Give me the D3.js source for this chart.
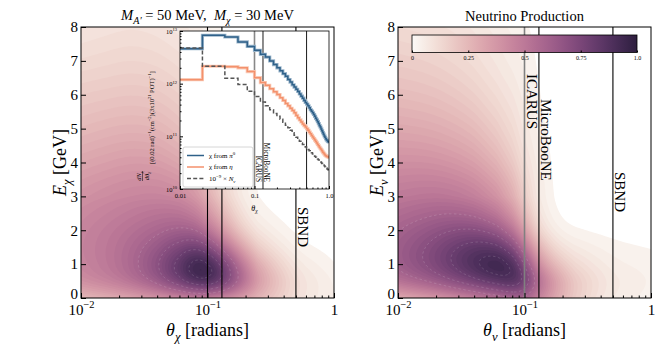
<!DOCTYPE html>
<html>
<head>
<meta charset="utf-8">
<script src="https://cdn.jsdelivr.net/npm/d3@7"></script>
<style>
  body { margin: 0; background: #fff; }
  svg, svg text { font-family: "Liberation Serif", "DejaVu Serif", serif; }
</style>
</head>
<body>
<svg id="chart" width="664" height="353"></svg>
<script>

// ---- Data ----

// Grid nodes of the (theta, E) density maps
const thetaGrid  = [0.01, 0.016, 0.025, 0.04, 0.06, 0.08, 0.1, 0.13, 0.18, 0.25, 0.4, 0.6, 1.0];
const energyGrid = [0, 0.5, 1, 1.5, 2, 2.5, 3, 4, 5, 6, 7, 8];

// Dark matter (chi) production, normalised, one row per energy (E = 0 first)
const chiDensity = [
  [0.25, 0.29, 0.33, 0.39, 0.45, 0.48, 0.48, 0.45, 0.37, 0.27, 0.14, 0.07, 0.04],
  [0.42, 0.47, 0.54, 0.66, 0.82, 0.93, 0.95, 0.86, 0.62, 0.38, 0.17, 0.08, 0.04],
  [0.45, 0.50, 0.57, 0.70, 0.86, 0.98, 0.96, 0.82, 0.54, 0.30, 0.11, 0.05, 0.02],
  [0.46, 0.50, 0.56, 0.65, 0.75, 0.79, 0.73, 0.58, 0.35, 0.16, 0.05, 0.02, 0.01],
  [0.45, 0.49, 0.53, 0.58, 0.62, 0.60, 0.52, 0.38, 0.18, 0.07, 0.02, 0.01, 0],
  [0.43, 0.46, 0.49, 0.52, 0.52, 0.47, 0.39, 0.26, 0.10, 0.03, 0.01, 0, 0],
  [0.40, 0.43, 0.45, 0.46, 0.44, 0.38, 0.30, 0.18, 0.06, 0.015, 0, 0, 0],
  [0.32, 0.34, 0.36, 0.35, 0.31, 0.25, 0.19, 0.10, 0.03, 0.01, 0, 0, 0],
  [0.24, 0.26, 0.27, 0.26, 0.22, 0.17, 0.12, 0.06, 0.02, 0, 0, 0, 0],
  [0.18, 0.19, 0.20, 0.19, 0.16, 0.12, 0.08, 0.04, 0.01, 0, 0, 0, 0],
  [0.12, 0.13, 0.14, 0.13, 0.11, 0.08, 0.05, 0.03, 0.01, 0, 0, 0, 0],
  [0.08, 0.09, 0.10, 0.09, 0.07, 0.05, 0.03, 0.02, 0, 0, 0, 0, 0]
];

// Neutrino production, normalised
const nuDensity = [
  [0.30, 0.35, 0.41, 0.48, 0.55, 0.60, 0.60, 0.46, 0.30, 0.18, 0.07, 0.05, 0.03],
  [0.55, 0.62, 0.70, 0.80, 0.88, 0.92, 0.85, 0.56, 0.35, 0.20, 0.09, 0.06, 0.04],
  [0.63, 0.71, 0.80, 0.92, 0.99, 0.92, 0.72, 0.40, 0.22, 0.12, 0.06, 0.04, 0.03],
  [0.63, 0.70, 0.78, 0.86, 0.85, 0.72, 0.52, 0.26, 0.10, 0.06, 0.035, 0.025, 0.02],
  [0.60, 0.65, 0.70, 0.72, 0.65, 0.52, 0.35, 0.12, 0.035, 0.02, 0.012, 0.008, 0],
  [0.55, 0.58, 0.60, 0.58, 0.50, 0.38, 0.24, 0.07, 0.015, 0.005, 0, 0, 0],
  [0.50, 0.52, 0.52, 0.48, 0.40, 0.30, 0.17, 0.05, 0.01, 0, 0, 0, 0],
  [0.40, 0.40, 0.38, 0.34, 0.26, 0.18, 0.10, 0.05, 0.005, 0, 0, 0, 0],
  [0.31, 0.30, 0.28, 0.24, 0.17, 0.12, 0.07, 0.03, 0, 0, 0, 0, 0],
  [0.23, 0.22, 0.20, 0.16, 0.11, 0.08, 0.05, 0.02, 0, 0, 0, 0, 0],
  [0.17, 0.16, 0.14, 0.11, 0.07, 0.05, 0.035, 0.015, 0, 0, 0, 0, 0],
  [0.12, 0.11, 0.10, 0.075, 0.05, 0.035, 0.025, 0.01, 0, 0, 0, 0, 0]
];

// Detectors (off-axis angles)
const detectorNames  = ["ICARUS", "MicroBooNE", "SBND"];
const detectorAngles = [0.1, 0.13, 0.5];

// Inset histogram, 0.02 rad bins from 0 to 1
const binWidth = 0.02;
const chiFromPi0 = [
  4.6e12, 8.3e12, 7.7e12, 6.2e12, 5.1e12, 4.3e12, 3.6e12, 3.2e12, 2.7e12, 2.3e12,
  2.0e12, 1.75e12, 1.55e12, 1.38e12, 1.2e12, 1.07e12, 9.5e11, 8.6e11, 7.8e11, 7.1e11,
  6.4e11, 5.8e11, 5.3e11, 4.8e11, 4.4e11, 4.1e11, 3.8e11, 3.5e11, 3.2e11, 3.0e11,
  2.8e11, 2.6e11, 2.4e11, 2.2e11, 2.05e11, 1.9e11, 1.75e11, 1.6e11, 1.5e11, 1.38e11,
  1.28e11, 1.18e11, 1.1e11, 1.02e11, 9.6e10, 9.0e10, 8.6e10, 8.3e10, 8.0e10, 7.8e10
];
const chiFromEta = [
  1.19e12, 2.14e12, 2.1e12, 2.0e12, 1.7e12, 1.3e12, 1.05e12, 9.3e11, 8.0e11, 7.0e11,
  6.2e11, 5.4e11, 4.8e11, 4.2e11, 3.8e11, 3.4e11, 3.1e11, 2.8e11, 2.5e11, 2.25e11,
  2.05e11, 1.88e11, 1.72e11, 1.6e11, 1.5e11, 1.4e11, 1.3e11, 1.2e11, 1.12e11, 1.04e11,
  9.7e10, 9.1e10, 8.5e10, 8.0e10, 7.5e10, 7.0e10, 6.6e10, 6.2e10, 5.9e10, 5.6e10,
  5.3e10, 5.0e10, 4.8e10, 4.6e10, 4.4e10, 4.3e10, 4.2e10, 4.1e10, 4.15e10, 4.0e10
];
const scaledNeutrinos = [
  4.75e12, 2.14e12, 1.27e12, 9.6e11, 7.2e11, 5.7e11, 4.5e11, 3.8e11, 3.2e11, 2.7e11,
  2.4e11, 2.1e11, 1.85e11, 1.62e11, 1.45e11, 1.3e11, 1.17e11, 1.05e11, 9.6e10, 8.8e10,
  8.1e10, 7.5e10, 7.0e10, 6.6e10, 6.3e10, 5.9e10, 5.6e10, 5.3e10, 5.1e10, 4.9e10,
  4.6e10, 4.4e10, 4.2e10, 4.0e10, 3.85e10, 3.7e10, 3.55e10, 3.4e10, 3.3e10, 3.2e10,
  3.05e10, 2.95e10, 2.85e10, 2.75e10, 2.65e10, 2.55e10, 2.5e10, 2.4e10, 2.35e10, 2.3e10
];

const colorbarTicks = [0, 0.25, 0.5, 0.75, 1.0];


// ---- Helpers ----

const svg = d3.select("#chart");
const serif = "'Liberation Serif', 'DejaVu Serif', serif";

// seaborn-style cubehelix palette (white -> dark purple)
function cubehelix(v) {
	const light = 0.98, dark = 0.15;
	const x = light - v * (light - dark);
	const a = 0.8 * x * (1 - x) / 2;
	const phi = 2 * Math.PI * 0.4 * x;
	const c = Math.cos(phi), s = Math.sin(phi);
	const r = x + a * (-0.14861 * c + 1.78277 * s);
	const g = x + a * (-0.29227 * c - 0.90649 * s);
	const b = x + a * (1.97294 * c);
	return d3.rgb(r * 255, g * 255, b * 255).formatHex();
}
const colour = d3.scaleSequential(cubehelix).domain([0, 1]);

// Text with italic / sub / superscript pieces
function richText(sel, parts, size) {
	let shift = 0;
	parts.forEach(p => {
		const target = p.sup ? -0.42 * size : p.sub ? 0.28 * size : 0;
		const span = sel.append("tspan").text(p.t);
		if (target !== shift) span.attr("dy", target - shift);
		if (p.sup || p.sub) span.attr("font-size", size * 0.7);
		if (p.it) span.attr("font-style", "italic");
		shift = target;
	});
	return sel;
}

// Density map: smooth the grid with basis splines, then filled contours
function drawDensity(g, panel, x, y) {
	const nx = 128, ny = 136;
	const colIdx = d3.scaleLinear().domain(thetaGrid.map(Math.log10)).range(d3.range(thetaGrid.length));
	const rowIdx = d3.scaleLinear().domain(energyGrid).range(d3.range(energyGrid.length));
	const rowSplines = panel.density.map(row => d3.interpolateBasis(row));
	const values = new Float64Array(nx * ny);

	for (let i = 0; i < nx; i++) {
		const px = panel.x0 + i * (panel.x1 - panel.x0) / (nx - 1);
		const t = colIdx(Math.log10(x.invert(px))) / (thetaGrid.length - 1);
		const colSpline = d3.interpolateBasis(rowSplines.map(f => f(t)));
		for (let j = 0; j < ny; j++) {
			const py = panel.y0 + j * (panel.y1 - panel.y0) / (ny - 1);
			const s = rowIdx(y.invert(py)) / (energyGrid.length - 1);
			values[j * nx + i] = Math.max(0, colSpline(s));
		}
	}

	const sx = (panel.x1 - panel.x0) / (nx - 1), sy = (panel.y1 - panel.y0) / (ny - 1);
	const path = d3.geoPath(d3.geoTransform({
		point(px, py) { this.stream.point(panel.x0 + (px - 0.5) * sx, panel.y0 + (py - 0.5) * sy); }
	}));

	const levels = d3.range(0.02, 1.0, 0.02);
	const filled = d3.contours().size([nx, ny]).thresholds(levels)(values);
	g.append("g")
		.selectAll("path")
		.data(filled)
		.join("path")
		.attr("d", path)
		.attr("fill", d => colour(d.value + 0.01));

	// faint dashed contour lines around the peak
	const lines = d3.contours().size([nx, ny]).thresholds([0.6, 0.7, 0.8, 0.9])(values);
	g.append("g")
		.selectAll("path")
		.data(lines)
		.join("path")
		.attr("d", path)
		.attr("fill", "none")
		.attr("stroke", "#ffffff")
		.attr("stroke-opacity", 0.2)
		.attr("stroke-width", 0.7)
		.attr("stroke-dasharray", "2.5,2.5");
}

// Axes with inward ticks
function drawAxes(g, panel, x, y) {
	g.append("rect")
		.attr("x", panel.x0).attr("y", panel.y0)
		.attr("width", panel.x1 - panel.x0).attr("height", panel.y1 - panel.y0)
		.attr("fill", "none").attr("stroke", "#000").attr("stroke-width", 1);

	const minor = x.ticks().filter(v => Math.abs(Math.log10(v) - Math.round(Math.log10(v))) > 1e-6);
	g.append("g")
		.attr("transform", `translate(0,${panel.y1})`)
		.call(d3.axisBottom(x).tickValues(minor).tickSize(-2.5).tickFormat(""))
		.call(a => a.select(".domain").remove());

	const xLabels = [[{t: "10"}, {t: "−2", sup: true}], [{t: "10"}, {t: "−1", sup: true}], [{t: "1"}]];
	g.append("g")
		.attr("transform", `translate(0,${panel.y1})`)
		.call(d3.axisBottom(x).tickValues([0.01, 0.1, 1]).tickSize(-5).tickPadding(6))
		.call(a => a.select(".domain").remove())
		.call(a => a.selectAll(".tick text")
			.attr("font-family", serif).attr("font-size", 15)
			.text(null)
			.each(function(d, i) { richText(d3.select(this), xLabels[i], 15); }));

	g.append("g")
		.attr("transform", `translate(${panel.x0},0)`)
		.call(d3.axisLeft(y).ticks(8).tickSize(-5).tickPadding(3))
		.call(a => a.select(".domain").remove())
		.call(a => a.selectAll(".tick text")
			.attr("font-family", serif).attr("font-size", 15)
			.attr("dy", d => d === 0 ? "0.05em" : "0.32em"));

	// axis titles
	richText(g.append("text")
		.attr("x", (panel.x0 + panel.x1) / 2).attr("y", 336)
		.attr("text-anchor", "middle").attr("font-size", 18).attr("font-family", serif),
		[{t: "θ", it: true}, {t: panel.sym, it: true, sub: true}, {t: " [radians]"}], 18);

	richText(g.append("text")
		.attr("transform", `translate(${panel.x0 - 15},${(panel.y0 + panel.y1) / 2}) rotate(-90)`)
		.attr("text-anchor", "middle").attr("font-size", 18).attr("font-family", serif),
		[{t: "E", it: true}, {t: panel.sym, it: true, sub: true}, {t: " [GeV]"}], 18);
}

// Vertical detector lines with rotated names
function drawDetectors(g, panel, x, y) {
	detectorAngles.forEach((a, i) => {
		const grey = panel.greyIcarus && i === 0;
		g.append("line")
			.attr("x1", x(a)).attr("x2", x(a))
			.attr("y1", panel.y0).attr("y2", panel.y1)
			.attr("stroke", grey ? "#808080" : "#000")
			.attr("stroke-width", grey ? 1.6 : 1.1);
	});
	panel.labels.forEach(l => {
		const i = detectorNames.indexOf(l.name);
		g.append("text")
			.attr("transform", `translate(${x(detectorAngles[i]) + 2},${l.top}) rotate(90)`)
			.attr("font-size", 15).attr("font-family", serif)
			.text(l.name);
	});
}


// ---- Panels ----

const panels = [
	{ x0: 81, x1: 334, y0: 27, y1: 298, density: chiDensity, sym: "χ", greyIcarus: false,
	  labels: [{ name: "SBND", top: 207 }] },
	{ x0: 398, x1: 651, y0: 27, y1: 298, density: nuDensity, sym: "ν", greyIcarus: true,
	  labels: [{ name: "ICARUS", top: 74 }, { name: "MicroBooNE", top: 99 }, { name: "SBND", top: 172 }] }
];

panels.forEach((panel, k) => {
	const x = d3.scaleLog().domain([0.01, 1]).range([panel.x0, panel.x1]);
	const y = d3.scaleLinear().domain([0, 8]).range([panel.y1, panel.y0]);
	const g = svg.append("g");

	const clipId = "clip" + k;
	g.append("clipPath").attr("id", clipId)
		.append("rect")
		.attr("x", panel.x0).attr("y", panel.y0)
		.attr("width", panel.x1 - panel.x0).attr("height", panel.y1 - panel.y0);

	drawDensity(g.append("g").attr("clip-path", `url(#${clipId})`), panel, x, y);
	drawDetectors(g, panel, x, y);
	drawAxes(g, panel, x, y);
});

// Titles
richText(svg.append("text")
	.attr("x", 207.5).attr("y", 20).attr("text-anchor", "middle").attr("font-size", 14.5)
	.attr("font-family", serif).style("white-space", "pre"),
	[{t: "M", it: true}, {t: "A′", it: true, sub: true}, {t: " = 50 MeV,  "},
	 {t: "M", it: true}, {t: "χ", it: true, sub: true}, {t: " = 30 MeV"}], 14.5);

svg.append("text")
	.attr("x", 524.5).attr("y", 21).attr("text-anchor", "middle").attr("font-size", 14.5)
	.attr("font-family", serif)
	.text("Neutrino Production");


// ---- Inset: angular distribution ----

const inset = { x0: 180, x1: 329, y0: 31, y1: 189 };
const xi = d3.scaleLog().domain([0.01, 1]).range([inset.x0, inset.x1]);
const yi = d3.scaleLog().domain([1e10, 1e13]).range([inset.y1, inset.y0]);
const ig = svg.append("g").attr("font-family", serif);

ig.append("rect")
	.attr("x", inset.x0).attr("y", inset.y0)
	.attr("width", inset.x1 - inset.x0).attr("height", inset.y1 - inset.y0)
	.attr("fill", "#fff");

ig.append("clipPath").attr("id", "insetClip")
	.append("rect")
	.attr("x", inset.x0).attr("y", inset.y0)
	.attr("width", inset.x1 - inset.x0).attr("height", inset.y1 - inset.y0);

// detector lines in inset
detectorAngles.forEach((a, i) => {
	ig.append("line")
		.attr("x1", xi(a)).attr("x2", xi(a))
		.attr("y1", inset.y0).attr("y2", inset.y1)
		.attr("stroke", i === 0 ? "#888" : "#000")
		.attr("stroke-width", i === 0 ? 1.6 : 0.9);
});
["ICARUS", "MicroBooNE"].forEach(name => {
	const a = detectorAngles[detectorNames.indexOf(name)];
	ig.append("text")
		.attr("transform", `translate(${xi(a) + 1.5},182) rotate(90)`)
		.attr("text-anchor", "end")
		.attr("font-size", 7.2)
		.text(name);
});

// step histograms
function stepPoints(values) {
	const pts = values.map((v, i) => [Math.max(i * binWidth, xi.domain()[0]), v]);
	pts.push([values.length * binWidth, values[values.length - 1]]);
	return pts;
}
const step = d3.line().x(d => xi(d[0])).y(d => yi(d[1])).curve(d3.curveStepAfter);

const series = [
	{ values: chiFromPi0, colour: "#2f6189", halo: "#9db7cc", dash: null },
	{ values: chiFromEta, colour: "#f4916c", halo: "#f9cbb8", dash: null },
	{ values: scaledNeutrinos, colour: "#555555", halo: null, dash: "4,2.2" }
];
const lineG = ig.append("g").attr("clip-path", "url(#insetClip)");
series.forEach(s => {
	if (s.halo) {
		lineG.append("path")
			.attr("d", step(stepPoints(s.values)))
			.attr("fill", "none").attr("stroke", s.halo).attr("stroke-width", 3.2);
	}
	lineG.append("path")
		.attr("d", step(stepPoints(s.values)))
		.attr("fill", "none").attr("stroke", s.colour).attr("stroke-width", 1.5)
		.attr("stroke-dasharray", s.dash);
});

// inset frame and ticks
ig.append("rect")
	.attr("x", inset.x0).attr("y", inset.y0)
	.attr("width", inset.x1 - inset.x0).attr("height", inset.y1 - inset.y0)
	.attr("fill", "none").attr("stroke", "#000").attr("stroke-width", 0.8);

const isMajor = v => Math.abs(Math.log10(v) - Math.round(Math.log10(v))) < 1e-6;
ig.append("g")
	.attr("transform", `translate(0,${inset.y1})`)
	.call(d3.axisBottom(xi).tickValues(xi.ticks().filter(v => !isMajor(v))).tickSize(-1.5).tickFormat(""))
	.call(a => a.select(".domain").remove());
ig.append("g")
	.attr("transform", `translate(0,${inset.y1})`)
	.call(d3.axisBottom(xi).tickValues([0.01, 0.1, 1]).tickSize(-3).tickPadding(4)
		.tickFormat(d => d === 1 ? "1.0" : String(d)))
	.call(a => a.select(".domain").remove())
	.call(a => a.selectAll(".tick text").attr("font-family", serif).attr("font-size", 6.5));

ig.append("g")
	.attr("transform", `translate(${inset.x0},0)`)
	.call(d3.axisLeft(yi).tickValues(yi.ticks().filter(v => !isMajor(v))).tickSize(-1.5).tickFormat(""))
	.call(a => a.select(".domain").remove());
ig.append("g")
	.attr("transform", `translate(${inset.x0},0)`)
	.call(d3.axisLeft(yi).tickValues([1e10, 1e11, 1e12, 1e13]).tickSize(-3).tickPadding(3))
	.call(a => a.select(".domain").remove())
	.call(a => a.selectAll(".tick text")
		.attr("font-family", serif).attr("font-size", 6.5)
		.text(null)
		.each(function(d) { richText(d3.select(this), [{t: "10"}, {t: String(Math.round(Math.log10(d))), sup: true}], 6.5); }));

// inset axis titles
richText(ig.append("text").attr("x", xi(0.1)).attr("y", 211).attr("text-anchor", "middle").attr("font-size", 8),
	[{t: "θ", it: true}, {t: "χ", it: true, sub: true}], 8);

const yl = ig.append("g").attr("transform", "translate(150,110) rotate(-90)");
richText(yl.append("text").attr("x", -66).attr("y", -9).attr("text-anchor", "middle").attr("font-size", 6.5),
	[{t: "dN", it: true}, {t: "χ", it: true, sub: true}], 6.5);
yl.append("line").attr("x1", -71).attr("x2", -61).attr("y1", -7.5).attr("y2", -7.5)
	.attr("stroke", "#000").attr("stroke-width", 0.5);
richText(yl.append("text").attr("x", -66).attr("y", -1.5).attr("text-anchor", "middle").attr("font-size", 6.5),
	[{t: "dθ", it: true}, {t: "χ", it: true, sub: true}], 6.5);
richText(yl.append("text").attr("x", -54).attr("y", 4).attr("font-size", 6.5),
	[{t: "[(0.02 rad)"}, {t: "−1", sup: true}, {t: "(cm"}, {t: "−2", sup: true},
	 {t: ")(3x10"}, {t: "21", sup: true}, {t: " POT)"}, {t: "−1", sup: true}, {t: "]"}], 6.5);

// inset legend
const legendItems = [
	[{t: "χ from "}, {t: "π", it: true}, {t: "0", sup: true}],
	[{t: "χ from "}, {t: "η", it: true}],
	[{t: "10"}, {t: "−9", sup: true}, {t: " × "}, {t: "N", it: true}, {t: "ν", it: true, sub: true}]
];
const lg = ig.append("g");
lg.append("rect")
	.attr("x", 183).attr("y", 147).attr("width", 70).attr("height", 40).attr("rx", 2)
	.attr("fill", "#fff").attr("fill-opacity", 0.85)
	.attr("stroke", "#cccccc").attr("stroke-width", 0.8);
series.forEach((s, i) => {
	const cy = 155.5 + i * 11.5;
	lg.append("line")
		.attr("x1", 187).attr("x2", 204).attr("y1", cy).attr("y2", cy)
		.attr("stroke", s.colour).attr("stroke-width", 1.5)
		.attr("stroke-dasharray", s.dash);
	richText(lg.append("text").attr("x", 209).attr("y", cy + 2.4).attr("font-size", 7),
		legendItems[i], 7);
});


// ---- Colour bar (right panel) ----

const cb = { x0: 412, x1: 637, y0: 35, y1: 52.5 };
const cbScale = d3.scaleLinear().domain([0, 1]).range([cb.x0, cb.x1]);
const grad = svg.append("defs").append("linearGradient").attr("id", "cbGrad");
grad.selectAll("stop")
	.data(d3.range(0, 1.0001, 0.05))
	.join("stop")
	.attr("offset", d => d)
	.attr("stop-color", d => colour(d));

const cg = svg.append("g");
cg.append("rect")
	.attr("x", cb.x0).attr("y", cb.y0)
	.attr("width", cb.x1 - cb.x0).attr("height", cb.y1 - cb.y0)
	.attr("fill", "url(#cbGrad)")
	.attr("stroke", "#000").attr("stroke-width", 0.8);
cg.append("g")
	.attr("transform", `translate(0,${cb.y1})`)
	.call(d3.axisBottom(cbScale).tickValues(colorbarTicks).tickSize(-2).tickPadding(3)
		.tickFormat(d => d === 1 ? "1.0" : String(d)))
	.call(a => a.select(".domain").remove())
	.call(a => a.selectAll(".tick text").attr("font-family", serif).attr("font-size", 6));

</script>
</body>
</html>
